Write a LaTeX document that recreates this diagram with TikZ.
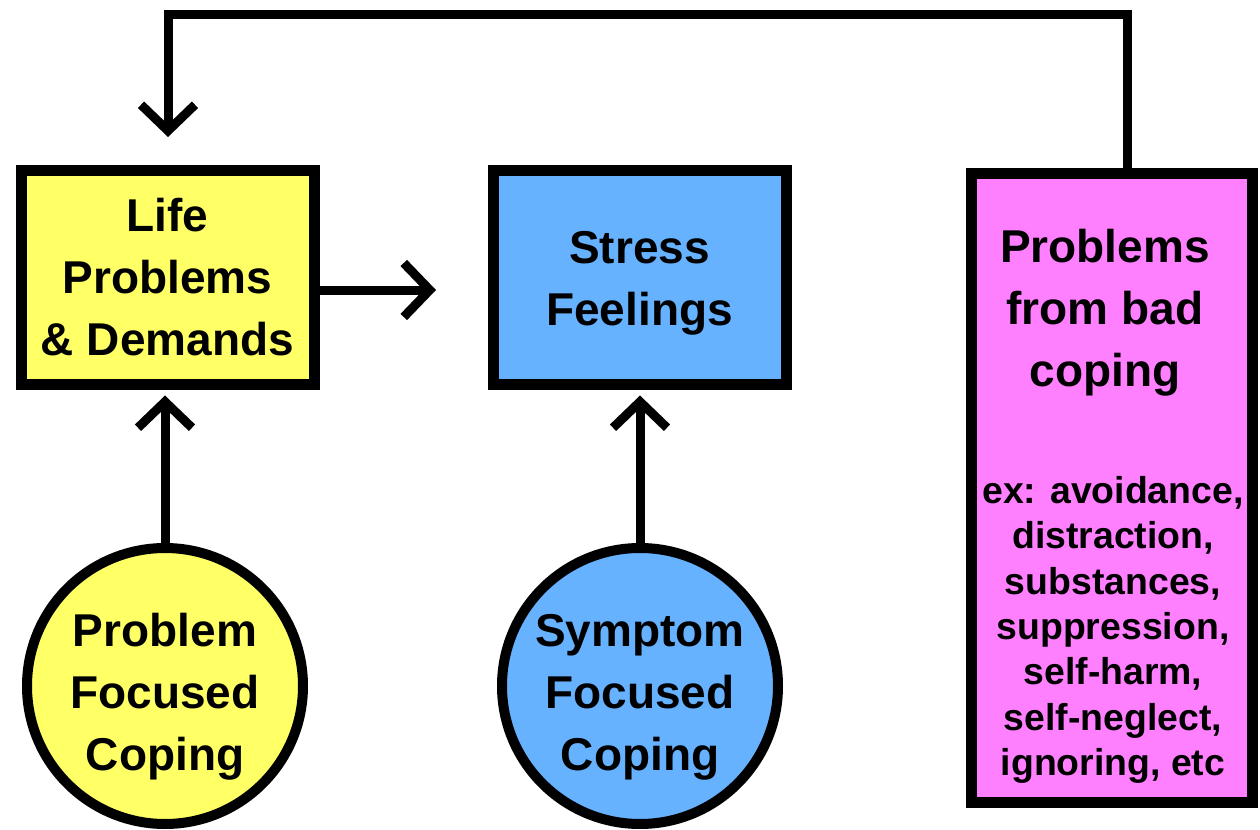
\documentclass[tikz,border=0pt]{standalone}
\usepackage{fontspec}
\setmainfont{Liberation Sans}
\usetikzlibrary{arrows.meta}
\definecolor{lifeyellow}{RGB}{255,255,102}
\definecolor{stressblue}{RGB}{102,178,255}
\definecolor{badpink}{RGB}{255,128,255}
\tikzset{
  bigtext/.style={font=\fontsize{23}{31}\selectfont\bfseries, align=center},
  smalltext/.style={font=\fontsize{18.7}{22.7}\selectfont\bfseries, align=center},
  boxshape/.style={draw=black, line width=5.5pt, rectangle, inner sep=0pt},
  circshape/.style={draw=black, line width=5pt, circle, inner sep=0pt, minimum size=138pt},
  arr/.style={line width=4.5pt, -{Straight Barb[length=13pt,width=27pt]}},
}
\begin{document}
\begin{tikzpicture}[x=0.5pt,y=-0.5pt]
\useasboundingbox (0,0) rectangle (1260,830);
% boxes
\node[boxshape, fill=lifeyellow, minimum width=146.5pt, minimum height=107pt] (life) at (167.5,277) {};
\node[bigtext] (lifetext) at (167.5,277) {Life\\Problems\\\& Demands};
\node[boxshape, fill=stressblue, minimum width=146.5pt, minimum height=107pt] (stress) at (639.5,277) {};
\node[bigtext] (stresstext) at (639.5,283) {Stress\\Feelings};
\node[boxshape, fill=badpink, minimum width=140.5pt, minimum height=314.5pt] (bad) at (1111.5,488) {};
\node[bigtext] (badtitle) at (1105,313) {Problems\\from bad\\coping};
\node[smalltext] (badex) at (1113,630) {ex: avoidance,\\distraction,\\substances,\\suppression,\\self-harm,\\self-neglect,\\ignoring, etc};
% circles
\node[circshape, fill=lifeyellow] (pfc) at (165,686) {};
\node[bigtext] (pfctext) at (165,697) {Problem\\Focused\\Coping};
\node[circshape, fill=stressblue] (sfc) at (640,686) {};
\node[bigtext] (sfctext) at (640,697) {Symptom\\Focused\\Coping};
% coordinates
\coordinate (ls) at (436,290);
\coordinate (c1) at (1127,14);
\coordinate (c2) at (168,14);
\coordinate (tipL) at (168,137);
% connectors
\draw[arr] (life.east |- ls) -- (ls);
\draw[arr, shorten >=3pt] (pfc.north) -- (pfc.north |- life.south);
\draw[arr, shorten >=3pt] (sfc.north) -- (sfc.north |- stress.south);
\draw[arr, line join=miter] (bad.north -| c1) -- (c1) -- (c2) -- (tipL);
\end{tikzpicture}
\end{document}
